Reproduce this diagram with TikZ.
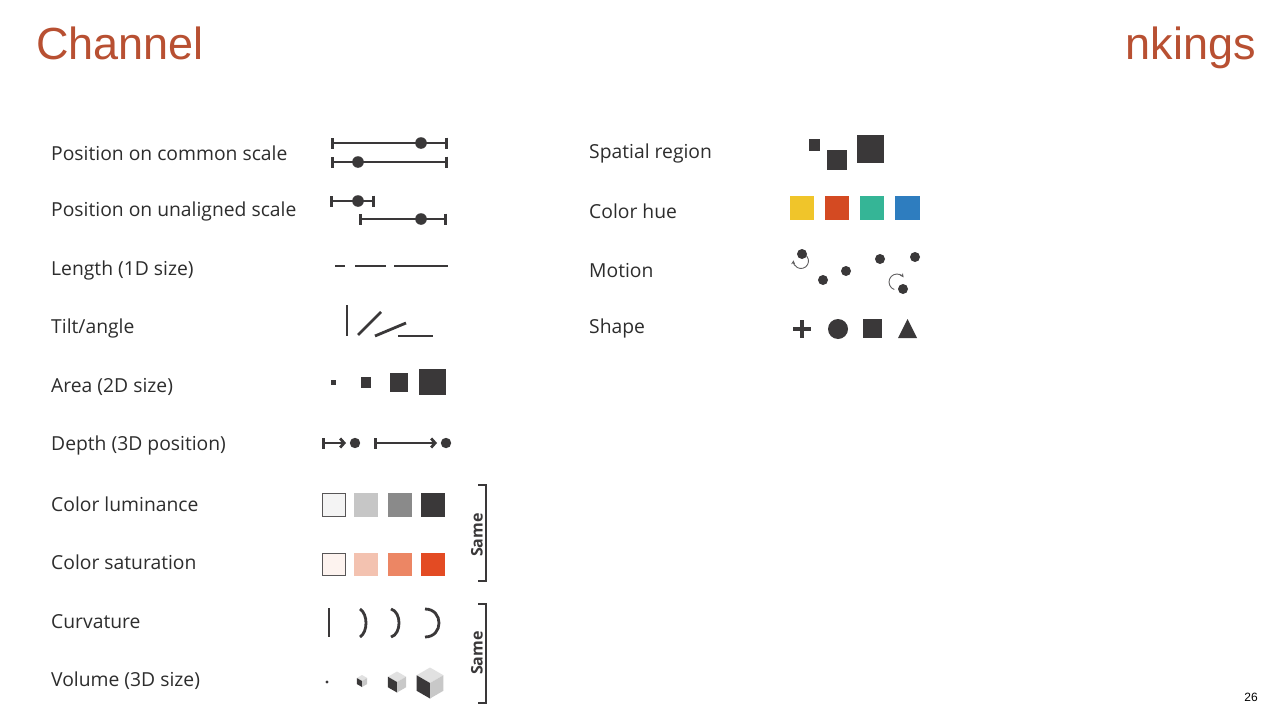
\documentclass[tikz,border=0pt]{standalone}
\usepackage{fontspec}
\setmainfont{Open Sans}
\newfontfamily\titlefont{Liberation Sans}
\usetikzlibrary{arrows.meta}
\definecolor{ttl}{RGB}{184,80,50}
\definecolor{ink}{RGB}{58,56,57}
\definecolor{lab}{RGB}{45,45,45}
\definecolor{lum1}{RGB}{244,244,244}
\definecolor{lum2}{RGB}{198,198,198}
\definecolor{lum3}{RGB}{138,138,138}
\definecolor{sat1}{RGB}{253,243,239}
\definecolor{sat2}{RGB}{243,194,176}
\definecolor{sat3}{RGB}{236,134,100}
\definecolor{sat4}{RGB}{227,75,35}
\definecolor{hue1}{RGB}{240,197,42}
\definecolor{hue2}{RGB}{212,74,34}
\definecolor{hue3}{RGB}{53,181,150}
\definecolor{hue4}{RGB}{46,125,191}
\definecolor{cubetop}{RGB}{225,225,225}
\definecolor{cuberight}{RGB}{200,200,200}
\begin{document}
\begin{tikzpicture}[x=1pt,y=-1pt,
  lbl/.style={anchor=west,inner sep=0pt,text=lab,font=\fontsize{19.3}{21}\selectfont},
  scl/.style={draw=ink,line width=2.8pt,{Bar[width=11pt]}-{Bar[width=11pt]}},
  seg/.style={draw=ink,line width=2.8pt},
  dotf/.style={fill=ink},
  sq/.style={fill=ink},
  brk/.style={draw=ink,line width=2.4pt},
  same/.style={rotate=90,inner sep=0pt,text=ink,font=\fontsize{16}{18}\selectfont\bfseries},
  mot/.style={draw=ink!80,line width=0.9pt},
]
\useasboundingbox[fill=white] (0,0) rectangle (1280,720);
% titles
\node[anchor=base west,inner sep=0pt,text=ttl,font=\titlefont\fontsize{45}{50}\selectfont] (t1) at (36,59) {Channel};
\node[anchor=base east,inner sep=0pt,text=ttl,font=\titlefont\fontsize{45}{50}\selectfont] (t2) at (1256,59) {nkings};
\node[anchor=base,inner sep=0pt,font=\titlefont\fontsize{12}{14}\selectfont] (pg) at (1251,701) {26};
% labels left
\node[lbl] (l1) at (51,153.5) {Position on common scale};
\node[lbl] (l2) at (51,211.5) {Position on unaligned scale};
\node[lbl] (l3) at (51,270.5) {Length (1D size)};
\node[lbl] (l4) at (51,328.5) {Tilt/angle};
\node[lbl] (l5) at (51,386.5) {Area (2D size)};
\node[lbl] (l6) at (51,445.5) {Depth (3D position)};
\node[lbl] (l7) at (51,504.5) {Color luminance};
\node[lbl] (l8) at (51,562.5) {Color saturation};
\node[lbl] (l9) at (51,621.5) {Curvature};
\node[lbl] (l10) at (51,680.5) {Volume (3D size)};
% labels right
\node[lbl] (r1) at (589,153.5) {Spatial region};
\node[lbl] (r2) at (589,211.5) {Color hue};
\node[lbl] (r3) at (589,270.5) {Motion};
\node[lbl] (r4) at (589,328.5) {Shape};
% position on common scale
\draw[scl] (331,143) -- (448,143);
\fill[dotf] (421,143) circle (5.8);
\draw[scl] (331,162) -- (448,162);
\fill[dotf] (358,162) circle (5.8);
% unaligned
\draw[scl] (330,201) -- (375,201);
\fill[dotf] (358,201) circle (5.8);
\draw[scl] (359,219) -- (447,219);
\fill[dotf] (421,219) circle (5.8);
% length
\draw[seg] (335,266) -- (345,266);
\draw[seg] (355,266) -- (386,266);
\draw[seg] (394,266) -- (448,266);
% tilt
\draw[seg] (347,305) -- (347,336);
\draw[seg] (358,335) -- (381,312);
\draw[seg] (375,336) -- (406,323);
\draw[seg] (398,336) -- (433,336);
% area
\fill[sq] (331,380) rectangle (336,385);
\fill[sq] (361,377) rectangle (371,388);
\fill[sq] (390,373) rectangle (408,392);
\fill[sq] (419,369) rectangle (446,395);
% depth
\draw[seg,{Bar[width=11pt]}-{Straight Barb[length=4pt,width=9pt]}] (322,443) -- (346,443);
\fill[dotf] (355,443) circle (5.2);
\draw[seg,{Bar[width=11pt]}-{Straight Barb[length=4pt,width=9pt]}] (374,443) -- (437,443);
\fill[dotf] (446,443) circle (5.2);
% luminance
\filldraw[fill=lum1,draw=ink!85,line width=1.2pt] (322.6,493.6) rectangle (345.4,516.4);
\fill[lum2] (354,493) rectangle (378,517);
\fill[lum3] (388,493) rectangle (412,517);
\fill[ink] (421,493) rectangle (445,517);
% saturation
\filldraw[fill=sat1,draw=ink!85,line width=1.2pt] (322.6,553.6) rectangle (345.4,575.4);
\fill[sat2] (354,553) rectangle (378,576);
\fill[sat3] (388,553) rectangle (412,576);
\fill[sat4] (421,553) rectangle (445,576);
% bracket 1
\draw[brk] (478,485) -- (486,485) -- (486,581) -- (478,581);
\node[same] (s1) at (477,535) {Same};
% curvature
\draw[seg] (329,608) -- (329,637);
\draw[seg] (360,609) .. controls (368,614) and (368,632) .. (360,637);
\draw[seg] (391,609) .. controls (401.7,612) and (401.7,634) .. (391,637);
\draw[seg] (425,609) .. controls (443.7,609) and (443.7,637) .. (425,637);
% volume
\fill[ink] (327,682) circle (1.6);
\foreach \cx/\cy/\s in {362/681/6, 397/682/10.5, 430/683/15.5}{
  \fill[cubetop] (\cx,\cy) -- ++(-0.866*\s,-0.5*\s) -- ++(0.866*\s,-0.5*\s) -- ++(0.866*\s,0.5*\s) -- cycle;
  \fill[ink] (\cx,\cy) -- ++(-0.866*\s,-0.5*\s) -- ++(0,\s) -- ++(0.866*\s,0.5*\s) -- cycle;
  \fill[cuberight] (\cx,\cy) -- ++(0.866*\s,-0.5*\s) -- ++(0,\s) -- ++(-0.866*\s,0.5*\s) -- cycle;
}
% bracket 2
\draw[brk] (478,604) -- (486,604) -- (486,703) -- (478,703);
\node[same] (s2) at (477,653) {Same};
% spatial region
\fill[sq] (809,139) rectangle (820,151);
\fill[sq] (827,150) rectangle (847,170);
\fill[sq] (857,135) rectangle (884,163);
% color hue
\fill[hue1] (790,196) rectangle (814,220);
\fill[hue2] (825,196) rectangle (849,220);
\fill[hue3] (860,196) rectangle (884,220);
\fill[hue4] (895,196) rectangle (920,220);
% motion
\draw[mot,-{Stealth[length=4pt,width=4pt]}] (801,261) ++(-60:7.5) arc[start angle=-60,end angle=185,radius=7.5];
\fill[dotf] (802,254) circle (5);
\fill[dotf] (823,280) circle (5);
\fill[dotf] (846,271) circle (5);
\fill[dotf] (880,259) circle (5);
\fill[dotf] (915,257) circle (5);
\draw[mot,-{Stealth[length=4pt,width=4pt]}] (897,282) ++(110:8) arc[start angle=110,end angle=325,radius=8];
\fill[dotf] (903,289) circle (5);
% shape
\draw[ink,line width=4.5pt] (793,329) -- (811,329);
\draw[ink,line width=4.5pt] (802,320) -- (802,338);
\fill[dotf] (838,329) circle (10);
\fill[sq] (863,319) rectangle (882,338);
\fill[sq] (898,338) -- (907.5,319) -- (917,338) -- cycle;
\end{tikzpicture}
\end{document}
